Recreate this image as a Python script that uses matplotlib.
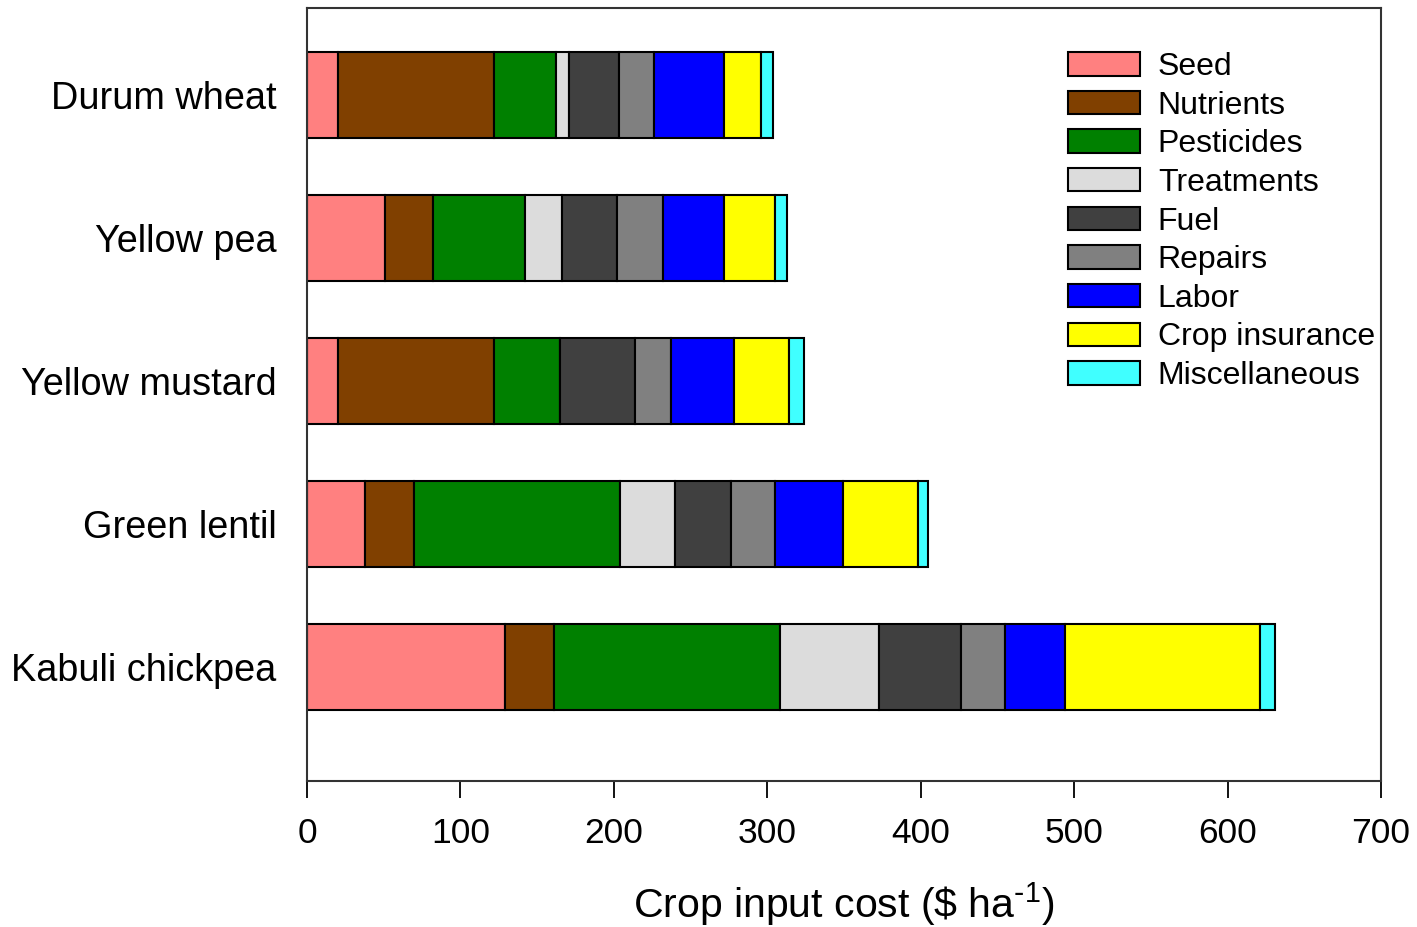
import numpy as np
import matplotlib
matplotlib.use("Agg")
import matplotlib.pyplot as plt

plt.rcParams['font.family'] = ['Liberation Sans', 'DejaVu Sans']
plt.rcParams['mathtext.default'] = 'regular'

# crops, top to bottom as in the figure
crops = ["Durum wheat", "Yellow pea", "Yellow mustard", "Green lentil", "Kabuli chickpea"]
categories = ["Seed", "Nutrients", "Pesticides", "Treatments", "Fuel",
              "Repairs", "Labor", "Crop insurance", "Miscellaneous"]

# cost components ($/ha), one list per category, in crop order
seed = [20, 51, 20, 38, 129]
nutrients = [102, 31, 102, 32, 32]
pesticides = [40, 60, 43, 134, 147]
treatments = [9, 24, 0, 36, 65]
fuel = [32, 36, 49, 36, 53]
repairs = [23, 30, 23, 29, 29]
labor = [46, 40, 41, 44, 39]
crop_insurance = [24, 33, 36, 49, 127]
miscellaneous = [8, 8, 10, 7, 10]

colors = ["#FF8080", "#804000", "#008000", "#DCDCDC", "#404040",
          "#808080", "#0000FF", "#FFFF00", "#40FFFF"]

series = [seed, nutrients, pesticides, treatments, fuel,
          repairs, labor, crop_insurance, miscellaneous]

fig = plt.figure(figsize=(14.17, 9.27), dpi=100)
ax = fig.add_axes([0.2167, 0.1575, 0.9746 - 0.2167, 0.9914 - 0.1575])

ypos = np.arange(len(crops))[::-1]
left = np.zeros(len(crops))
for vals, name, col in zip(series, categories, colors):
    vals = np.array(vals, dtype=float)
    ax.barh(ypos, vals, left=left, height=0.6, color=col,
            edgecolor="black", linewidth=1.5, label=name)
    left += vals

ax.set_xlim(0, 700)
ax.set_ylim(-0.8, 4.61)
ax.set_xticks(np.arange(0, 701, 100))
ax.set_yticks(ypos)
ax.set_yticklabels(crops, fontsize=27.3)
ax.tick_params(axis='y', length=0, pad=22)
ax.tick_params(axis='x', direction='out', length=12, width=1.3, labelsize=25.5, pad=14)
for sp in ax.spines.values():
    sp.set_linewidth(1.5)
    sp.set_color("#333333")

ax.set_xlabel(r"Crop input cost (\$ ha$^{\text{-}1}$)", fontsize=29.5, labelpad=22)

fig.legend(loc='upper left', bbox_to_anchor=(1068 / 1417, 1 - 52 / 927),
           frameon=False, fontsize=23, handlelength=2.25, handleheight=0.75,
           handletextpad=0.56, labelspacing=0.27, borderpad=0, borderaxespad=0)

fig.savefig("out.png", dpi=100)
